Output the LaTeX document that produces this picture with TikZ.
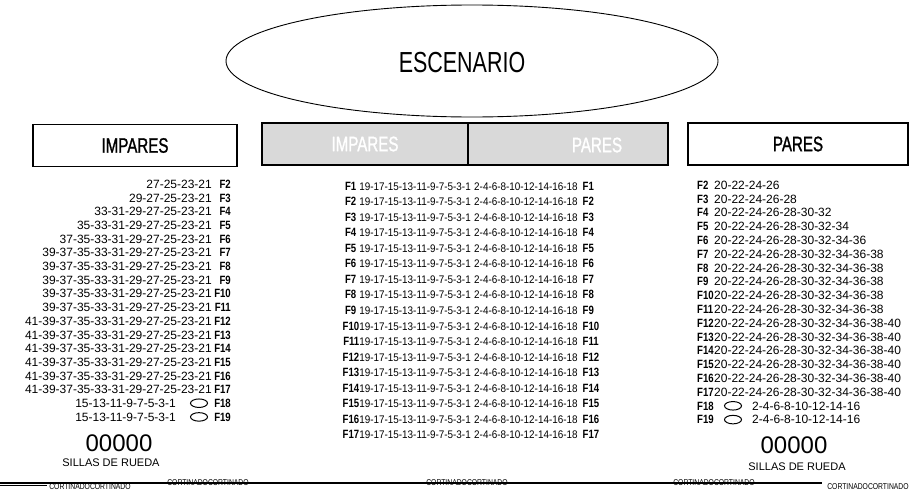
\documentclass[tikz,border=0pt]{standalone}
\usepackage{fontspec}
\setmainfont{Liberation Sans}
\newfontfamily\condfont[FakeStretch=0.74]{Liberation Sans}
\newfontfamily\hdrfont[FakeStretch=0.72,FakeBold=1.2]{Liberation Sans}
\newfontfamily\rowfont[FakeStretch=0.9]{Liberation Sans}
\newfontfamily\labfont[FakeStretch=0.8]{Liberation Sans}
\usetikzlibrary{shapes.geometric}

\newcommand{\fila}[1]{{\labfont\bfseries\fontsize{12}{12}\selectfont #1}}
\newcommand{\impc}{19-17-15-13-11-9-7-5-3-1}
\newcommand{\parc}{2-4-6-8-10-12-14-16-18}
\newcommand{\impl}{39-37-35-33-31-29-27-25-23-21}
\newcommand{\impm}{41-39-37-35-33-31-29-27-25-23-21}
\newcommand{\parl}{20-22-24-26-28-30-32-34-36-38}
\newcommand{\parm}{20-22-24-26-28-30-32-34-36-38-40}

\begin{document}
\begin{tikzpicture}[x=1pt, y=-1pt,
    hdr/.style={draw, line width=1.1pt, minimum height=42pt, inner sep=0pt,
      font=\hdrfont\fontsize{21}{21}\selectfont},
    ghdr/.style={hdr, fill=gray!30, text=white},
    lrow/.style={anchor=east, inner sep=0pt, text height=8.6pt, text depth=0pt,
      font=\fontsize{12}{12}\selectfont},
    rrow/.style={lrow, anchor=west},
    crow/.style={inner sep=0pt, text height=8pt, text depth=0pt,
      font=\rowfont\fontsize{11}{11}\selectfont},
    seat/.style={draw, ellipse, line width=1pt, minimum width=17pt,
      minimum height=8.5pt, inner sep=0pt},
    cort/.style={inner sep=0pt, font=\labfont\fontsize{8.5}{8.5}\selectfont},
    sillas/.style={inner sep=0pt, font=\fontsize{11}{11}\selectfont}]
  \useasboundingbox (0,0) rectangle (915,490);

  % escenario
  \node [draw, ellipse, line width=0.9pt, minimum width=492pt, minimum height=112pt] (esc) at (472,61) {};
  \node [font=\condfont\fontsize{29}{29}\selectfont] (esctxt) at (462,63) {ESCENARIO};

  % cabeceras
  \node [hdr, minimum width=204pt] (himp) at (135,145.5) {IMPARES};
  \node [ghdr, minimum width=206pt] (gimp) at (365,144) {IMPARES};
  \node [ghdr, minimum width=200pt] (gpar) at (568,144) {};
  \node [font=\hdrfont\fontsize{21}{21}\selectfont, text=white] (gpartxt) at (597,145) {PARES};
  \node [hdr, minimum width=220pt] (hpar) at (798,144) {PARES};

  % lateral impares
  \node [lrow] (lf2) at (231,184) {27-25-23-21\hspace{2pt}\makebox[17pt][r]{\fila{F2}}};
  \node [lrow] (lf3) at (231,197.7) {29-27-25-23-21\hspace{2pt}\makebox[17pt][r]{\fila{F3}}};
  \node [lrow] (lf4) at (231,211.4) {33-31-29-27-25-23-21\hspace{2pt}\makebox[17pt][r]{\fila{F4}}};
  \node [lrow] (lf5) at (231,225.1) {35-33-31-29-27-25-23-21\hspace{2pt}\makebox[17pt][r]{\fila{F5}}};
  \node [lrow] (lf6) at (231,238.8) {37-35-33-31-29-27-25-23-21\hspace{2pt}\makebox[17pt][r]{\fila{F6}}};
  \node [lrow] (lf7) at (231,252.5) {\impl\hspace{2pt}\makebox[17pt][r]{\fila{F7}}};
  \node [lrow] (lf8) at (231,266.2) {\impl\hspace{2pt}\makebox[17pt][r]{\fila{F8}}};
  \node [lrow] (lf9) at (231,279.9) {\impl\hspace{2pt}\makebox[17pt][r]{\fila{F9}}};
  \node [lrow] (lf10) at (231,293.6) {\impl\hspace{2pt}\makebox[17pt][r]{\fila{F10}}};
  \node [lrow] (lf11) at (231,307.3) {\impl\hspace{2pt}\makebox[17pt][r]{\fila{F11}}};
  \node [lrow] (lf12) at (231,321) {\impm\hspace{2pt}\makebox[17pt][r]{\fila{F12}}};
  \node [lrow] (lf13) at (231,334.7) {\impm\hspace{2pt}\makebox[17pt][r]{\fila{F13}}};
  \node [lrow] (lf14) at (231,348.4) {\impm\hspace{2pt}\makebox[17pt][r]{\fila{F14}}};
  \node [lrow] (lf15) at (231,362.1) {\impm\hspace{2pt}\makebox[17pt][r]{\fila{F15}}};
  \node [lrow] (lf16) at (231,375.8) {\impm\hspace{2pt}\makebox[17pt][r]{\fila{F16}}};
  \node [lrow] (lf17) at (231,389.5) {\impm\hspace{2pt}\makebox[17pt][r]{\fila{F17}}};
  \node [lrow] (ln18) at (176,403.2) {15-13-11-9-7-5-3-1};
  \node [seat] (ls18) at (199,403.2) {};
  \node [lrow] (lf18) at (231,403.2) {\fila{F18}};
  \node [lrow] (ln19) at (176,416.9) {15-13-11-9-7-5-3-1};
  \node [seat] (ls19) at (199,416.9) {};
  \node [lrow] (lf19) at (231,416.9) {\fila{F19}};

  % centro
  \node [crow, anchor=east] (ci1) at (471,186) {\fila{F1}\hspace{3pt}\impc};
  \node [crow, anchor=west] (cp1) at (474,186) {\parc\hspace{5pt}\fila{F1}};
  \node [crow, anchor=east] (ci2) at (471,201.6) {\fila{F2}\hspace{3pt}\impc};
  \node [crow, anchor=west] (cp2) at (474,201.6) {\parc\hspace{5pt}\fila{F2}};
  \node [crow, anchor=east] (ci3) at (471,217.1) {\fila{F3}\hspace{3pt}\impc};
  \node [crow, anchor=west] (cp3) at (474,217.1) {\parc\hspace{5pt}\fila{F3}};
  \node [crow, anchor=east] (ci4) at (471,232.7) {\fila{F4}\hspace{3pt}\impc};
  \node [crow, anchor=west] (cp4) at (474,232.7) {\parc\hspace{5pt}\fila{F4}};
  \node [crow, anchor=east] (ci5) at (471,248.2) {\fila{F5}\hspace{3pt}\impc};
  \node [crow, anchor=west] (cp5) at (474,248.2) {\parc\hspace{5pt}\fila{F5}};
  \node [crow, anchor=east] (ci6) at (471,263.8) {\fila{F6}\hspace{3pt}\impc};
  \node [crow, anchor=west] (cp6) at (474,263.8) {\parc\hspace{5pt}\fila{F6}};
  \node [crow, anchor=east] (ci7) at (471,279.3) {\fila{F7}\hspace{3pt}\impc};
  \node [crow, anchor=west] (cp7) at (474,279.3) {\parc\hspace{5pt}\fila{F7}};
  \node [crow, anchor=east] (ci8) at (471,294.9) {\fila{F8}\hspace{3pt}\impc};
  \node [crow, anchor=west] (cp8) at (474,294.9) {\parc\hspace{5pt}\fila{F8}};
  \node [crow, anchor=east] (ci9) at (471,310.4) {\fila{F9}\hspace{3pt}\impc};
  \node [crow, anchor=west] (cp9) at (474,310.4) {\parc\hspace{5pt}\fila{F9}};
  \node [crow, anchor=east] (ci10) at (471,326) {\fila{F10}\impc};
  \node [crow, anchor=west] (cp10) at (474,326) {\parc\hspace{5pt}\fila{F10}};
  \node [crow, anchor=east] (ci11) at (471,341.5) {\fila{F11}\impc};
  \node [crow, anchor=west] (cp11) at (474,341.5) {\parc\hspace{5pt}\fila{F11}};
  \node [crow, anchor=east] (ci12) at (471,357.1) {\fila{F12}\impc};
  \node [crow, anchor=west] (cp12) at (474,357.1) {\parc\hspace{5pt}\fila{F12}};
  \node [crow, anchor=east] (ci13) at (471,372.6) {\fila{F13}\impc};
  \node [crow, anchor=west] (cp13) at (474,372.6) {\parc\hspace{5pt}\fila{F13}};
  \node [crow, anchor=east] (ci14) at (471,388.2) {\fila{F14}\impc};
  \node [crow, anchor=west] (cp14) at (474,388.2) {\parc\hspace{5pt}\fila{F14}};
  \node [crow, anchor=east] (ci15) at (471,403.7) {\fila{F15}\impc};
  \node [crow, anchor=west] (cp15) at (474,403.7) {\parc\hspace{5pt}\fila{F15}};
  \node [crow, anchor=east] (ci16) at (471,419.3) {\fila{F16}\impc};
  \node [crow, anchor=west] (cp16) at (474,419.3) {\parc\hspace{5pt}\fila{F16}};
  \node [crow, anchor=east] (ci17) at (471,434.8) {\fila{F17}\impc};
  \node [crow, anchor=west] (cp17) at (474,434.8) {\parc\hspace{5pt}\fila{F17}};

  % lateral pares
  \node [rrow] (rf2) at (697,185) {\makebox[17pt][l]{\fila{F2}}20-22-24-26};
  \node [rrow] (rf3) at (697,198.8) {\makebox[17pt][l]{\fila{F3}}20-22-24-26-28};
  \node [rrow] (rf4) at (697,212.6) {\makebox[17pt][l]{\fila{F4}}20-22-24-26-28-30-32};
  \node [rrow] (rf5) at (697,226.4) {\makebox[17pt][l]{\fila{F5}}20-22-24-26-28-30-32-34};
  \node [rrow] (rf6) at (697,240.2) {\makebox[17pt][l]{\fila{F6}}20-22-24-26-28-30-32-34-36};
  \node [rrow] (rf7) at (697,254) {\makebox[17pt][l]{\fila{F7}}\parl};
  \node [rrow] (rf8) at (697,267.8) {\makebox[17pt][l]{\fila{F8}}\parl};
  \node [rrow] (rf9) at (697,281.6) {\makebox[17pt][l]{\fila{F9}}\parl};
  \node [rrow] (rf10) at (697,295.4) {\makebox[17pt][l]{\fila{F10}}\parl};
  \node [rrow] (rf11) at (697,309.2) {\makebox[17pt][l]{\fila{F11}}\parl};
  \node [rrow] (rf12) at (697,323) {\makebox[17pt][l]{\fila{F12}}\parm};
  \node [rrow] (rf13) at (697,336.8) {\makebox[17pt][l]{\fila{F13}}\parm};
  \node [rrow] (rf14) at (697,350.6) {\makebox[17pt][l]{\fila{F14}}\parm};
  \node [rrow] (rf15) at (697,364.4) {\makebox[17pt][l]{\fila{F15}}\parm};
  \node [rrow] (rf16) at (697,378.2) {\makebox[17pt][l]{\fila{F16}}\parm};
  \node [rrow] (rf17) at (697,392) {\makebox[17pt][l]{\fila{F17}}\parm};
  \node [rrow] (rf18) at (697,405.8) {\fila{F18}};
  \node [seat] (rs18) at (733,405.8) {};
  \node [rrow] (rn18) at (752,405.8) {2-4-6-8-10-12-14-16};
  \node [rrow] (rf19) at (697,419.6) {\fila{F19}};
  \node [seat] (rs19) at (733,419.6) {};
  \node [rrow] (rn19) at (752,419.6) {2-4-6-8-10-12-14-16};

  % sillas de rueda
  \node [inner sep=0pt, font=\fontsize{24}{24}\selectfont] (lsil) at (119,443) {00000};
  \node [sillas] (lsiltxt) at (111,463) {SILLAS DE RUEDA};
  \node [inner sep=0pt, font=\fontsize{24}{24}\selectfont] (rsil) at (794,445) {00000};
  \node [sillas] (rsiltxt) at (797,467) {SILLAS DE RUEDA};

  % cortinado
  \draw [line width=1.2pt] (0,483) -- (822,483);
  \draw [line width=1pt] (0,485.5) -- (47,485.5);
  \node [cort] (cort1) at (90,486.5) {CORTINADOCORTINADO};
  \node [cort] (cort2) at (208,482.5) {CORTINADOCORTINADO};
  \node [cort] (cort3) at (467,482.5) {CORTINADOCORTINADO};
  \node [cort] (cort4) at (714,482.5) {CORTINADOCORTINADO};
  \node [cort] (cort5) at (868,486.5) {CORTINADOCORTINADO};
\end{tikzpicture}
\end{document}
